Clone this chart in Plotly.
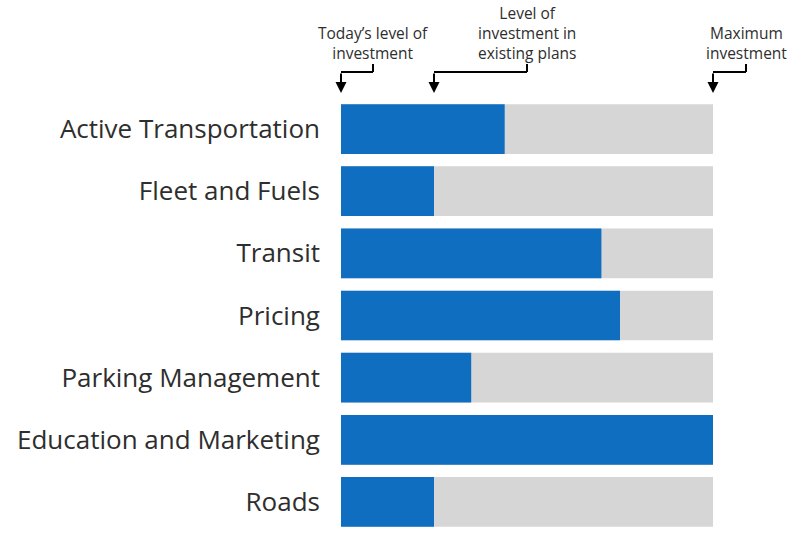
import plotly.graph_objects as go

# Investment levels by strategy, as a share of the maximum investment
categories = [
    "Active Transportation",
    "Fleet and Fuels",
    "Transit",
    "Pricing",
    "Parking Management",
    "Education and Marketing",
    "Roads",
]
planned_level = [44, 25, 70, 75, 35, 100, 25]
maximum_level = [100, 100, 100, 100, 100, 100, 100]

# Callout labels above the bars: lines of text, value the arrow points to, text centre offset in px
callout_lines = [
    ["Today’s level of", "investment"],
    ["Level of", "investment in", "existing plans"],
    ["Maximum", "investment"],
]
callout_value = [0, 25, 100]
callout_offset = [32, 93, 33]

W, H = 802, 533
L, R, T, B = 341, 89, 98, 0
plot_w = W - L - R
plot_h = H - T - B

BLUE = "#0F6EC0"
GREY = "#D6D6D6"
TEXT = "#2E2E2E"

fig = go.Figure()
fig.add_trace(go.Bar(
    y=categories, x=maximum_level, orientation="h",
    marker=dict(color=GREY, line=dict(width=0)), hoverinfo="skip",
))
fig.add_trace(go.Bar(
    y=categories, x=planned_level, orientation="h",
    marker=dict(color=BLUE, line=dict(width=0)),
))


def py(px):
    """Pixel row (from top of page) to paper y."""
    return (H - B - px) / plot_h


def pxx(px):
    """Pixel column to paper x."""
    return (px - L) / plot_w


LINE_STEP = 19
LAST_LINE_Y = 52

shapes = []
annotations = []
for lines, val, off in zip(callout_lines, callout_value, callout_offset):
    tip_x = val / 100.0
    tip_px = L + tip_x * plot_w
    stem_px = tip_px + off
    # elbow: short stem under the text, across, then down to the arrowhead
    shapes.append(dict(type="line", xref="paper", yref="paper",
                       x0=pxx(stem_px), x1=pxx(stem_px), y0=py(64), y1=py(72),
                       line=dict(color="black", width=2)))
    shapes.append(dict(type="line", xref="paper", yref="paper",
                       x0=pxx(stem_px), x1=tip_x, y0=py(72), y1=py(72),
                       line=dict(color="black", width=2)))
    annotations.append(dict(
        xref="paper", yref="paper", x=tip_x, y=py(93), ax=0, ay=-21,
        axref="pixel", ayref="pixel", text="", showarrow=True,
        arrowhead=2, arrowsize=1.1, arrowwidth=2, arrowcolor="black",
    ))
    n = len(lines)
    yc = LAST_LINE_Y - (n - 1) * LINE_STEP / 2
    annotations.append(dict(
        xref="paper", yref="paper", x=pxx(stem_px), y=py(yc),
        xanchor="center", yanchor="middle", text="<br>".join(lines),
        showarrow=False, borderpad=0,
        font=dict(family="Open Sans", size=15.5, color=TEXT),
    ))

fig.update_layout(
    width=W, height=H,
    margin=dict(l=L, r=R, t=T, b=B, pad=0),
    barmode="overlay", bargap=0.2,
    showlegend=False,
    plot_bgcolor="white", paper_bgcolor="white",
    xaxis=dict(range=[0, 100], visible=False, fixedrange=True),
    yaxis=dict(autorange="reversed", showgrid=False, zeroline=False, showline=False,
               ticks="", ticklabelstandoff=20,
               tickfont=dict(family="Open Sans", size=26, color=TEXT)),
    shapes=shapes, annotations=annotations,
    font=dict(family="Open Sans"),
)

fig.write_html("out.html")
